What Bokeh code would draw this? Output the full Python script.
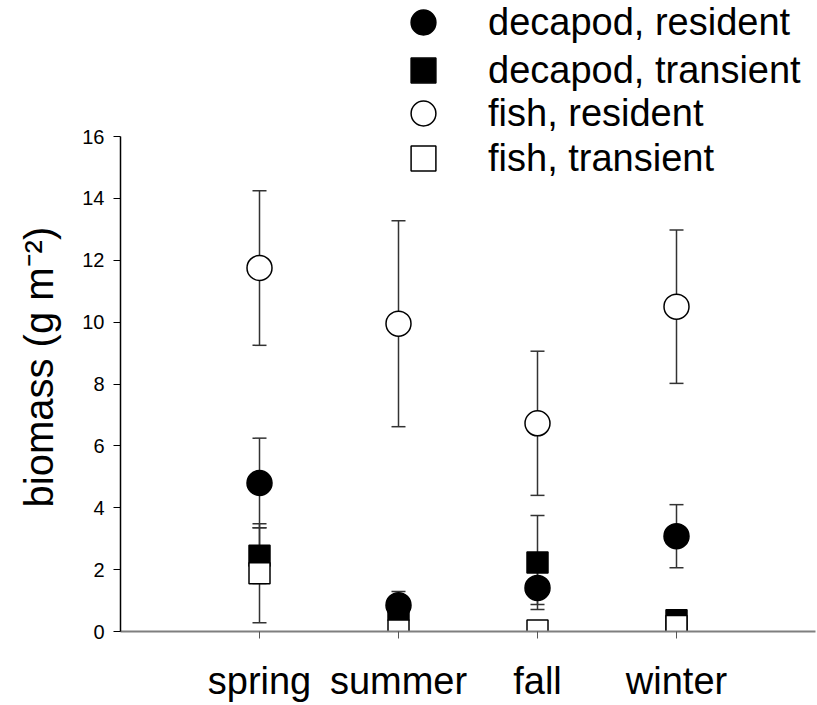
from bokeh.plotting import figure
from bokeh.models import (ColumnDataSource, Whisker, Legend, LegendItem, FixedTicker,
                          Range1d, Title, TeeHead)
from bokeh.embed import file_html
from bokeh.resources import INLINE

# ---- data ----
seasons = ["spring", "summer", "fall", "winter"]
season_pos = [1, 2, 3, 4]

dec_res = [4.80, 0.85, 1.41, 3.08]
dec_res_err = [1.45, 0.44, 0.54, 1.02]

dec_tra = [2.45, 0.70, 2.23, 0.36]
dec_tra_err = [0.90, 0.20, 1.52, 0.10]

fish_res = [11.75, 9.95, 6.73, 10.50]
fish_res_err = [2.50, 3.33, 2.33, 2.48]

fish_tra = [1.88, 0.03, 0.03, 0.18]
fish_tra_err = [1.60, 0.00, 0.00, 0.18]

y_ticks = [0, 2, 4, 6, 8, 10, 12, 14, 16]
series_labels = ["decapod, resident", "decapod, transient", "fish, resident", "fish, transient"]

FONT = "Liberation Sans"

# y range extends above 16 so the legend sits inside the frame; the axis stops at 16
p = figure(width=817, height=705, output_backend="svg", toolbar_location=None,
           x_range=Range1d(0, 5), y_range=Range1d(0, 20.396),
           min_border_left=120, min_border_right=2, min_border_top=0, min_border_bottom=74)
p.outline_line_color = None
p.xgrid.visible = False
p.ygrid.visible = False
p.background_fill_color = "white"
p.border_fill_color = "white"

def make_src(vals, errs):
    return ColumnDataSource(dict(x=season_pos, y=vals,
                                 lo=[v - e for v, e in zip(vals, errs)],
                                 hi=[v + e for v, e in zip(vals, errs)]))

sources = [make_src(dec_res, dec_res_err), make_src(dec_tra, dec_tra_err),
           make_src(fish_res, fish_res_err), make_src(fish_tra, fish_tra_err)]

for s in sources:
    w = Whisker(source=s, base="x", upper="hi", lower="lo", level="underlay",
                line_color="#333333", line_width=1.5,
                upper_head=TeeHead(size=14, line_color="#333333", line_width=1.5),
                lower_head=TeeHead(size=14, line_color="#333333", line_width=1.5))
    p.add_layout(w)

r_dr = p.scatter("x", "y", source=sources[0], marker="circle", size=25,
                 fill_color="black", line_color="black", line_width=1.5)
r_dt = p.scatter("x", "y", source=sources[1], marker="square", size=21,
                 fill_color="black", line_color="black", line_width=1.5)
r_fr = p.scatter("x", "y", source=sources[2], marker="circle", size=25,
                 fill_color="white", line_color="black", line_width=1.5)
r_ft = p.scatter("x", "y", source=sources[3], marker="square", size=21,
                 fill_color="white", line_color="black", line_width=1.5)

# x axis
xa = p.xaxis[0]
xa.ticker = FixedTicker(ticks=season_pos)
xa.major_label_overrides = {pos: lab for pos, lab in zip(season_pos, seasons)}
xa.axis_line_color = "#7f7f7f"
xa.axis_line_width = 2
xa.major_tick_line_color = "#555555"
xa.major_tick_out = 7
xa.major_tick_in = 0
xa.minor_tick_line_color = None
xa.major_label_standoff = 21
xa.major_label_text_font = FONT
xa.major_label_text_font_size = "38px"
xa.major_label_text_color = "black"

# y axis
ya = p.yaxis[0]
ya.ticker = FixedTicker(ticks=y_ticks)
ya.bounds = (0, 16)
ya.axis_line_color = "black"
ya.axis_line_width = 1.5
ya.major_tick_line_color = "black"
ya.major_tick_line_width = 1.2
ya.major_tick_out = 7
ya.major_tick_in = 0
ya.minor_tick_line_color = None
ya.major_label_standoff = 9
ya.major_label_text_font = FONT
ya.major_label_text_font_size = "20px"
ya.major_label_text_color = "black"

ytitle = Title(text="biomass (g m\u207b\u00b2)", align="left", offset=124,
               vertical_align="top", standoff=33, text_font=FONT,
               text_font_size="40px", text_font_style="normal", text_color="black")
p.add_layout(ytitle, "left")

# one single-row legend per series so the rows can sit closer than the glyph boxes
renderers = [r_dr, r_dt, r_fr, r_ft]
row_y = [578, 530, 487, 442]
for lab, r, ly in zip(series_labels, renderers, row_y):
    lg = Legend(items=[LegendItem(label=lab, renderers=[r])],
                location=(272, ly), glyph_width=62, glyph_height=62,
                label_standoff=34, padding=0, margin=0, border_line_color=None,
                background_fill_alpha=0, label_text_font=FONT,
                label_text_font_size="38px", label_height=43, label_text_color="black")
    p.add_layout(lg)

open("out.html", "w").write(file_html(p, INLINE))
